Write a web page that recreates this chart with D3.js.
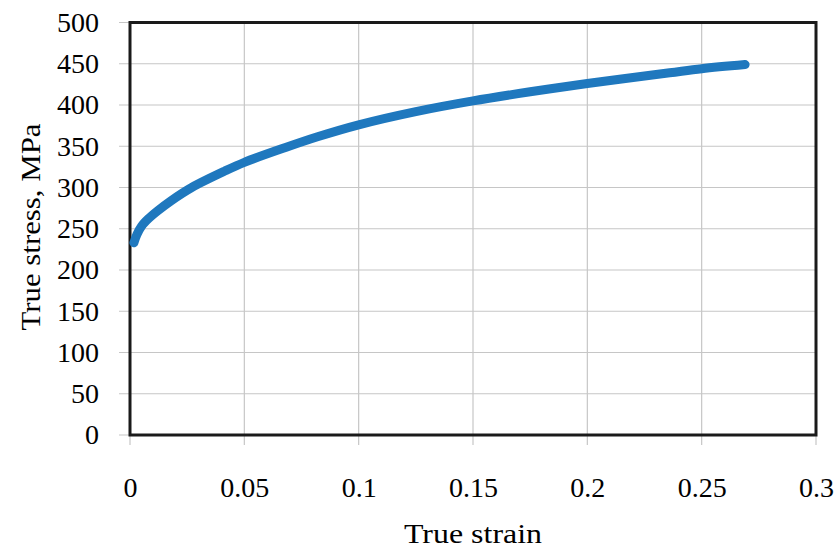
<!DOCTYPE html>
<html>
<head>
<meta charset="utf-8">
<script src="https://cdnjs.cloudflare.com/ajax/libs/d3/7.8.5/d3.min.js"></script>
<style>
  html, body { margin: 0; padding: 0; background: #fff; }
  svg { display: block; }
</style>
</head>
<body>
<svg id="chart" width="837" height="550"></svg>
<script>
// Data
const strain = [0.0017, 0.003, 0.005, 0.008, 0.012, 0.018, 0.027, 0.0415, 0.05, 0.068, 0.082, 0.1, 0.125, 0.15, 0.175, 0.2, 0.236, 0.25, 0.269];
const stress = [233, 243, 253, 262, 271.5, 284, 300, 320, 330.5, 348.5, 361.5, 376, 392, 405, 416, 426, 439, 444, 449];
const xTicks = [0, 0.05, 0.1, 0.15, 0.2, 0.25, 0.3];
const yTicks = [0, 50, 100, 150, 200, 250, 300, 350, 400, 450, 500];
const xTickLabels = ["0", "0.05", "0.1", "0.15", "0.2", "0.25", "0.3"];
const xTitle = "True strain";
const yTitle = "True stress, MPa";

const FONT = "'Liberation Serif', 'Times New Roman', serif";
const FS = "28px";
const svg = d3.select("#chart");
const pL = 130, pR = 816, pT = 22.5, pB = 435;

const x = d3.scaleLinear().domain([0, 0.3]).range([pL, pR]);
const y = d3.scaleLinear().domain([0, 500]).range([pB, pT]);

// gridlines (extend outward as tick marks)
svg.append("g").selectAll("line").data(xTicks).join("line")
  .attr("x1", d => x(d)).attr("x2", d => x(d))
  .attr("y1", pT).attr("y2", pB + 10)
  .attr("stroke", "#c6c6c6").attr("stroke-width", 1.2);
svg.append("g").selectAll("line").data(yTicks).join("line")
  .attr("x1", pL - 11).attr("x2", pR)
  .attr("y1", d => y(d)).attr("y2", d => y(d))
  .attr("stroke", "#c6c6c6").attr("stroke-width", 1.2);

// axes labels via d3 axes
const xAxis = svg.append("g").attr("transform", `translate(0,${pB})`)
  .call(d3.axisBottom(x).tickValues(xTicks).tickFormat((d, i) => xTickLabels[i]).tickSize(0).tickPadding(42));
const yAxis = svg.append("g").attr("transform", `translate(${pL},0)`)
  .call(d3.axisLeft(y).tickValues(yTicks).tickFormat(d3.format("d")).tickSize(0).tickPadding(31));
[xAxis, yAxis].forEach(a => {
  a.select(".domain").remove();
  a.selectAll(".tick line").remove();
  a.attr("font-family", FONT).attr("font-size", 28);
  a.selectAll("text").attr("fill", "#000").style("font-family", FONT).style("font-size", FS);
});

// plot border
svg.append("rect").attr("x", pL).attr("y", pT)
  .attr("width", pR - pL).attr("height", pB - pT)
  .attr("fill", "none").attr("stroke", "#1a1a1a").attr("stroke-width", 3);

// curve
const pts = strain.map((s, i) => [s, stress[i]]);
const line = d3.line().x(d => x(d[0])).y(d => y(d[1])).curve(d3.curveCatmullRom.alpha(0.5));
svg.append("path").datum(pts).attr("d", line)
  .attr("fill", "none").attr("stroke", "#1f78be").attr("stroke-width", 9)
  .attr("stroke-linecap", "round").attr("stroke-linejoin", "round");

// titles
svg.append("text").attr("x", 473).attr("y", 543).attr("text-anchor", "middle")
  .style("font-family", FONT).style("font-size", FS).attr("fill", "#000")
  .attr("textLength", 138).attr("lengthAdjust", "spacingAndGlyphs").text(xTitle);
svg.append("text").attr("transform", "translate(40,227) rotate(-90)").attr("text-anchor", "middle")
  .style("font-family", FONT).style("font-size", FS).attr("fill", "#000")
  .attr("textLength", 207).attr("lengthAdjust", "spacingAndGlyphs").text(yTitle);
</script>
</body>
</html>
